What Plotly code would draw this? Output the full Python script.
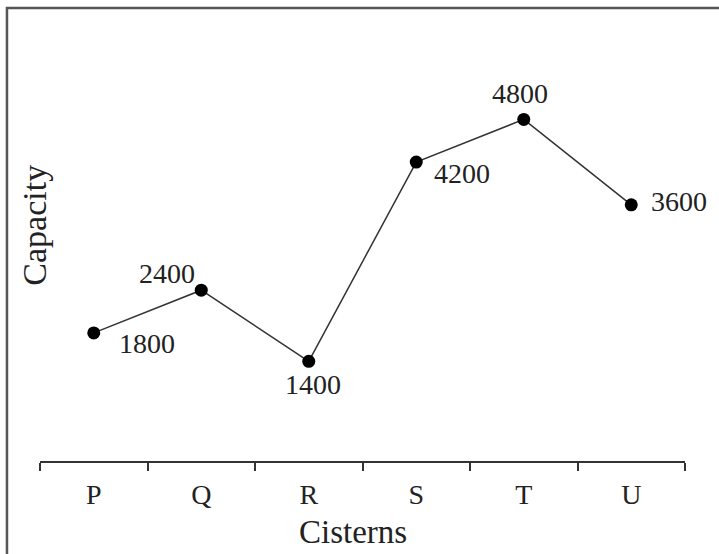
import plotly.graph_objects as go

cisterns = ["P", "Q", "R", "S", "T", "U"]
capacity = [1800, 2400, 1400, 4200, 4800, 3600]

# label offsets (px) for each point: xshift, yshift, xanchor
label_dx = [23, -4, 4, 16, -4, 18]
label_dy = [-11, 17, -23, -11, 26, 3]
label_anchor = ["left", "right", "center", "left", "center", "left"]

serif = "Liberation Serif, Times New Roman, serif"

fig = go.Figure()
fig.add_trace(go.Scatter(
    x=cisterns, y=capacity, mode="lines+markers",
    line=dict(color="#333333", width=1.5),
    marker=dict(color="black", size=13),
    showlegend=False, hoverinfo="skip"
))

for c, v, dx, dy, anc in zip(cisterns, capacity, label_dx, label_dy, label_anchor):
    fig.add_annotation(x=c, y=v, text=str(v), showarrow=False,
                       xshift=dx, yshift=dy, xanchor=anc, yanchor="middle",
                       font=dict(family=serif, size=28, color="#222222"))

# axis titles
fig.add_annotation(x=0.485, y=-0.166, xref="paper", yref="paper", text="Cisterns",
                   showarrow=False, xanchor="center", yanchor="middle",
                   font=dict(family=serif, size=33, color="#222222"))
fig.add_annotation(x=-0.008, y=0.553, xref="paper", yref="paper", text="Capacity",
                   showarrow=False, textangle=-90, xanchor="center", yanchor="middle",
                   font=dict(family=serif, size=34, color="#222222"))

# outer frame
fig.add_shape(type="rect", xref="paper", yref="paper",
              x0=-0.0512, x1=1.3, y0=-0.5, y1=1.0609,
              line=dict(color="#555555", width=2.5))

fig.update_xaxes(type="category", range=[-0.5, 5.5],
                 showline=True, linecolor="#333333", linewidth=1.5,
                 ticks="outside", tickson="boundaries", ticklen=8,
                 tickcolor="#333333", tickwidth=1.5, ticklabelstandoff=8,
                 showgrid=False, zeroline=False,
                 tickfont=dict(family=serif, size=28, color="#222222"))
fig.update_yaxes(range=[0, 6000], visible=False)

fig.update_layout(width=719, height=554,
                  margin=dict(l=40, r=34, t=34, b=93),
                  plot_bgcolor="white", paper_bgcolor="white")

fig.write_html("out.html", config={"displayModeBar": False},
               post_script="document.body.style.margin='0';")
